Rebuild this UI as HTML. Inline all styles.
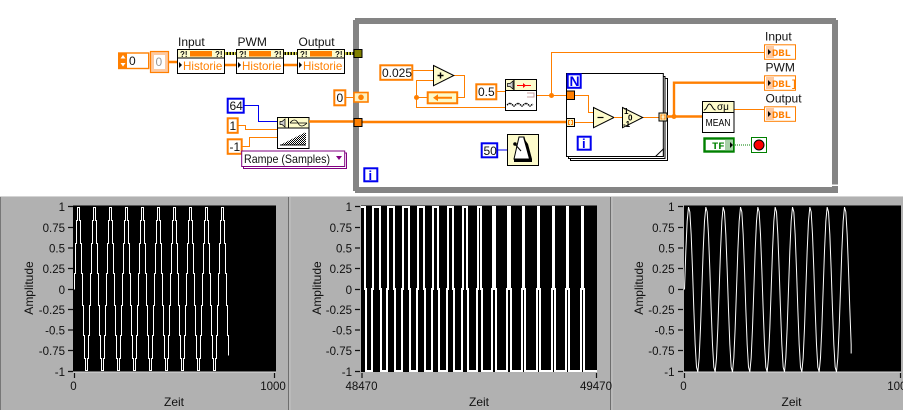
<!DOCTYPE html>
<html><head><meta charset="utf-8"><title>LabVIEW</title>
<style>
html,body{margin:0;padding:0;background:#fff;width:903px;height:410px;overflow:hidden}
svg{display:block}
text{font-family:"Liberation Sans",sans-serif;font-size:12px;fill:#111}
.o{fill:none;stroke:#ff7f00;stroke-width:1}
.ot{fill:none;stroke:#ff7f00;stroke-width:2.4}
.b{fill:#fff;stroke:#ff7f00;stroke-width:2}
.bl{fill:#fff;stroke:#0000f0;stroke-width:2}
.n{fill:#fff;stroke:#000;stroke-width:1}
.c{fill:#fdfbcb;stroke:#000;stroke-width:1}
.h{fill:#ff7f00;font-size:11.6px}
.e{text-anchor:end;font-size:11.5px}
.m{text-anchor:middle;font-size:11.5px}
.t{stroke:#111;stroke-width:1.2}
.d{fill:#ff7f00;font-weight:bold;font-size:10.5px;font-family:"Liberation Mono",monospace}
</style></head><body>
<svg width="903" height="410" viewBox="0 0 903 410" xmlns="http://www.w3.org/2000/svg">
<defs>
<pattern id="dith" width="2" height="2" patternUnits="userSpaceOnUse"><rect width="2" height="2" fill="#fff"/><rect width="1" height="1" fill="#000"/><rect x="1" y="1" width="1" height="1" fill="#000"/></pattern>
<path id="sine" d="M0 0l1.333-38.6l1.333-29.7l1.333-14.1l1.333 4.8l1.333 22.6l1.333 35.1l1.333 39.8l1.333 35.1l1.333 22.6l1.333 4.8l1.333-14.1l1.333-29.7l1.333-38.6" fill="none" stroke="#fff" stroke-width="1"/>
</defs>
<rect width="903" height="410" fill="#fff"/>

<!-- While loop -->
<path d="M356 21H835V190H356Z" fill="#fff" stroke="#848484" stroke-width="6"/>
<path d="M353 18h2v2h-2zM836 18h2v2h-2zM353 191h2v2h-2zM830 184.500h8v1.500h-8z" fill="#fff"/>

<!-- top-left chain -->
<rect x="118.7" y="53" width="30" height="15.5" fill="#fff" stroke="#ff7f00" stroke-width="1.4"/>
<rect x="119" y="53" width="8" height="15.5" fill="#ff7f00"/>
<path d="M123 55l2.5 3.500h-5zM123 66.500l2.500-3.500h-5z" fill="#fff"/>
<text x="129" y="65">0</text>
<rect x="150.500" y="51.500" width="18" height="21" fill="#fdc9a0" stroke="#ff7f00" stroke-width="1.2"/>
<rect x="154" y="55" width="11" height="14" fill="#fff"/>
<text x="155.500" y="66" style="fill:#999">0</text>
<path class="ot" d="M168 62H178M225 65H237M283 65H298"/>
<path d="M225 53.500H237M283 53.500H298M345 53.500H355" stroke="#000" stroke-width="3" fill="none"/>
<path d="M225 53.500H237M283 53.500H298M345 53.500H355" stroke="#e8e850" stroke-width="3" stroke-dasharray="1.500 1.500" fill="none"/>

<!-- nodes -->
<rect class="n" x="177.500" y="49.500" width="47" height="24"/>
<rect class="c" x="177.500" y="49.500" width="47" height="8.500"/>
<rect x="190" y="51" width="22" height="5.500" fill="#ff7f00"/>
<text x="180" y="57" style="font-size:8px;font-weight:bold">?!</text><text x="215" y="57" style="font-size:8px;font-weight:bold">?!</text>
<path d="M179 62v6l3-3z" fill="#000"/>
<text class="h" x="183" y="70">Historie</text>

<rect class="n" x="236.500" y="49.500" width="47" height="24"/>
<rect class="c" x="236.500" y="49.500" width="47" height="8.500"/>
<rect x="249" y="51" width="22" height="5.500" fill="#ff7f00"/>
<text x="239" y="57" style="font-size:8px;font-weight:bold">?!</text><text x="274" y="57" style="font-size:8px;font-weight:bold">?!</text>
<path d="M238 62v6l3-3z" fill="#000"/>
<text class="h" x="242" y="70">Historie</text>

<rect class="n" x="297.500" y="49.500" width="47" height="24"/>
<rect class="c" x="297.500" y="49.500" width="47" height="8.500"/>
<rect x="310" y="51" width="22" height="5.500" fill="#ff7f00"/>
<text x="300" y="57" style="font-size:8px;font-weight:bold">?!</text><text x="335" y="57" style="font-size:8px;font-weight:bold">?!</text>
<path d="M299 62v6l3-3z" fill="#000"/>
<text class="h" x="303" y="70">Historie</text>

<text x="178" y="46">Input</text><text x="237.500" y="46">PWM</text><text x="298.500" y="46">Output</text>
<rect x="354" y="49.500" width="8" height="8" fill="#808000" stroke="#000"/>

<!-- left constants -->
<rect class="b" x="334.300" y="90.300" width="11" height="15"/>
<text x="336.500" y="102">0</text>
<path class="o" d="M346 97.500H354"/>
<rect x="354" y="92.500" width="14" height="9.500" fill="#fdf0c0" stroke="#ff7f00" stroke-width="1.600"/>
<circle cx="361" cy="97.300" r="2.800" fill="#ff7f00"/>

<path d="M244 105.500H258.500V121.500H278" fill="none" stroke="#0000f0"/>
<path class="o" d="M238 125.500H245.500V129.500H278M242 146.500H249.500V137.500H278"/>
<rect class="bl" x="227.700" y="98.700" width="16" height="14"/>
<text x="229.500" y="110">64</text>
<rect class="b" x="227.700" y="118.300" width="10" height="14.500"/>
<text x="229.500" y="130">1</text>
<rect class="b" x="227.700" y="139.300" width="14" height="14.500"/>
<text x="229.500" y="151">-1</text>
<rect x="243.500" y="153" width="103" height="15.500" fill="#fff" stroke="#800080"/>
<rect x="241.700" y="151" width="103" height="15.500" fill="#fff" stroke="#800080"/>
<text x="244" y="163" textLength="86" lengthAdjust="spacingAndGlyphs">Rampe (Samples)</text>
<path d="M336 156h6l-3 4z" fill="#800080"/>

<rect class="n" x="277.500" y="117.500" width="31.500" height="31"/>
<rect class="c" x="277.500" y="117.500" width="31.500" height="10.500"/>
<path d="M288.500 118V128" stroke="#000"/>
<path d="M285 119v8l-3-2.500h-2v-3h2z" fill="#ccc" stroke="#000" stroke-width=".7"/>
<path d="M290 123c3-4 6-4 8 0s5 4 9 0M290 123h17" fill="none" stroke="#000" stroke-width=".8"/>
<path d="M280 145L306 132V145Z" fill="url(#dith)"/>
<path d="M280 145H306" stroke="#000"/>

<path class="ot" d="M309 121.500H354"/>
<path class="ot" d="M361 122H567"/>
<rect x="354" y="118.500" width="8" height="8" fill="#ff7f00" stroke="#000"/>

<!-- interior -->
<rect class="b" x="380.300" y="65.300" width="32" height="14.500"/>
<text x="382" y="77">0.025</text>
<path class="o" d="M413 70.500H433M454 75.500H464.500V97.500H458M427 97.500H416.500V80.500H433M416.500 97.500V107.500H505.500M497 91.500H505.500"/>
<circle cx="416.500" cy="97.500" r="2.500" fill="#ff7f00"/>
<path class="c" d="M433.500 65.500L453.800 75.500L433.500 85.700Z"/>
<path d="M437.500 75.500h6M440.500 72.500v6" stroke="#000" stroke-width="1.400"/>
<rect x="427.700" y="92.300" width="29.500" height="11" fill="#fdfbcb" stroke="#ff7f00" stroke-width="2"/>
<path d="M433 97.700l5-3.500v7zM437 96.700h15v2h-15z" fill="#ff7f00"/>
<rect class="b" x="476.300" y="84.300" width="20" height="15"/>
<text x="478" y="96">0.5</text>
<rect class="n" x="505.500" y="79.500" width="31" height="31"/>
<rect class="c" x="505.500" y="79.500" width="31" height="11"/>
<path d="M514 80v10" stroke="#000"/>
<path d="M513 81v8l-3-2.500h-2.500v-3h2.500z" fill="#ccc" stroke="#000" stroke-width=".7"/>
<path d="M517 85.500h14" stroke="#f00" stroke-width="1"/><path d="M523 83l3 2.500-3 2.500z" fill="#f00"/>
<path d="M527 97h7v-4h-7" fill="none" stroke="#c8a0a0"/>
<path d="M507 105l3-2 4 3 4-3 4 3 4-3 4 3 3-2" fill="none" stroke="#000" stroke-width="1.500" stroke-dasharray="1.300 .7"/>
<path class="o" d="M537 95.500H567M551.500 95.500V52.500H764"/>
<circle cx="551.500" cy="95.500" r="2.500" fill="#ff7f00"/>

<rect class="bl" x="481.700" y="143.300" width="15.500" height="14"/>
<text x="483.500" y="155">50</text>
<path d="M498 150H507.500" stroke="#0000f0"/>
<rect class="c" x="507.500" y="134.500" width="31" height="31"/>
<path d="M519 137h5l6 22h-16z" fill="#fff" stroke="#000"/>
<path d="M523 137l6 22h3l-4-15z" fill="#000"/>
<path d="M514 143l7 8" stroke="#000"/><circle cx="515" cy="144" r="1.800" fill="#000"/>
<path d="M514 159h18v3h-18z" fill="#000"/>

<!-- for loop -->
<rect x="570.500" y="78.500" width="97" height="82" fill="#fff" stroke="#000"/>
<rect x="568.500" y="76.500" width="96.500" height="82" fill="#fff" stroke="#000"/>
<rect x="566.500" y="73.500" width="96.800" height="83" fill="#fff" stroke="#000"/>
<path d="M655.500 156.500L663.300 149V156.500Z" fill="#fff" stroke="#000"/>
<path class="o" d="M575 95.500H588.500V112.500H593.500M575 122.500H593.500"/>
<rect x="567.700" y="74.300" width="13" height="13.500" class="bl"/>
<text x="569.500" y="86" style="fill:#0000f0;font-size:14px;font-weight:bold">N</text>
<rect x="566.500" y="91" width="8" height="8.500" fill="#ff7f00" stroke="#000"/>
<rect x="566.500" y="118.500" width="8" height="8" fill="#fdf0c0" stroke="#000"/>
<path d="M570 120.500h-1.500v4h1.500M571 120.500h1.500v4h-1.500" fill="none" stroke="#ff7f00"/>
<rect class="bl" x="577.700" y="136.700" width="13" height="13"/>
<text x="582" y="148" style="fill:#0000f0;font-size:13px;font-weight:bold">i</text>
<rect class="bl" x="364.300" y="168.300" width="13" height="13"/>
<text x="368.500" y="180" style="fill:#0000f0;font-size:13px;font-weight:bold">i</text>

<path class="c" d="M593.500 107.500L614 117.500L593.500 127.700Z"/>
<path d="M597.500 117.500h6" stroke="#000" stroke-width="1.200"/>
<path class="o" d="M614 117.500H622.500M642.500 117.500H659M734 109.500H764"/>
<path class="c" d="M622.500 107.500L642.700 117.500L622.500 127.700Z"/>
<text x="624" y="114" style="font-size:8px;font-weight:bold;fill:#000">1</text>
<text x="628" y="120.500" style="font-size:8px;font-weight:bold;fill:#000">0</text>
<text x="623" y="127" style="font-size:8px;font-weight:bold;fill:#000">-1</text>
<rect x="659" y="113" width="8" height="8" fill="#fdf0c0" stroke="#000"/>
<path d="M662.500 115h-1.500v4h1.500M663.500 115h1.500v4h-1.500" fill="none" stroke="#ff7f00"/>
<path class="ot" d="M667 116.500H702.500M674 116.500V82.700H764"/>
<circle cx="674" cy="116.500" r="2.500" fill="#ff7f00"/>

<rect class="n" x="702.500" y="101.500" width="31.500" height="31"/>
<rect class="c" x="702.500" y="101.500" width="31.500" height="11"/>
<path d="M704 110c3 0 3-6 5.500-6s3 6 6 6" fill="none" stroke="#000"/>
<text x="717" y="110" style="font-size:10px;fill:#000">σμ</text>
<text x="705.500" y="126" textLength="25" lengthAdjust="spacingAndGlyphs" style="font-size:10px;fill:#000">MEAN</text>

<!-- indicators -->
<text x="765" y="40.500">Input</text><text x="765.500" y="71.500">PWM</text><text x="765.500" y="102.500">Output</text>
<rect x="764.500" y="44.800" width="31" height="14.500" fill="#fff" stroke="#ff7f00"/>
<rect x="766" y="46" width="8" height="12" fill="#fdc9a0"/>
<path d="M768 49v6l3-3z" fill="#000"/><text class="d" x="772" y="56">DBL</text>
<rect x="764.500" y="75.800" width="31" height="14.500" fill="#fff" stroke="#ff7f00"/>
<rect x="766" y="77" width="8" height="12" fill="#fdc9a0"/>
<path d="M768 80v6l3-3z" fill="#000"/><text class="d" x="772" y="87">DBL]</text>
<rect x="764.500" y="106.800" width="31" height="14.500" fill="#fff" stroke="#ff7f00"/>
<rect x="766" y="108" width="8" height="12" fill="#fdc9a0"/>
<path d="M768 111v6l3-3z" fill="#000"/><text class="d" x="772" y="118">DBL</text>

<rect x="704.500" y="138.500" width="29" height="13" fill="#fff" stroke="#008000" stroke-width="2.400"/>
<rect x="725" y="139.500" width="8" height="11" fill="#a8d0a8"/>
<text x="712" y="149" style="fill:#008000;font-weight:bold;font-size:10.500px;font-family:'Liberation Mono',monospace">TF</text>
<path d="M730 142v6l3-3z" fill="#000"/>
<path d="M735 145H751" stroke="#008000" stroke-dasharray="1 1" fill="none"/>
<rect x="751.500" y="137.500" width="15" height="15" fill="#fff" stroke="#008000"/>
<circle cx="759" cy="145" r="5" fill="#f00" stroke="#000"/>

<!-- Bottom panels -->
<rect x="0" y="196" width="903" height="214" fill="#b1b1b1"/>
<path d="M0 196.500H903" stroke="#d4d4d4"/>
<path d="M.5 197V410" stroke="#777"/>
<path d="M288.500 197V410M610.500 197V410" stroke="#6e6e6e"/>
<path d="M290 197V410M612 197V410" stroke="#c4c4c4"/>

<!-- plot 1 -->
<rect x="73" y="205" width="203" height="167" fill="#000"/>
<path d="M73 205.500H276" stroke="#555"/><path d="M73 372H276" stroke="#ddd"/>
<path d="M74.500 289.500V273.500h1v-30h1v-23h1v-13h2v13h1v23h1v30h1v32h1v30h1v23h1v12h2v-12h1v-23h1v-30h1v-32h1v-30h1v-23h1v-13h2v13h1v23h1v30h1v32h1v30h1v23h1v12h2v-12h1v-23h1v-30h1v-32h1v-30h1v-23h1v-13h2v13h1v23h1v30h1v32h1v30h1v23h1v12h2v-12h1v-23h1v-30h1v-32h1v-30h1v-23h1v-13h2v13h1v23h1v30h1v32h1v30h1v23h1v12h2v-12h1v-23h1v-30h1v-32h1v-30h1v-23h1v-13h2v13h1v23h1v30h1v32h1v30h1v23h1v12h2v-12h1v-23h1v-30h1v-32h1v-30h1v-23h1v-13h2v13h1v23h1v30h1v32h1v30h1v23h1v12h2v-12h1v-23h1v-30h1v-32h1v-30h1v-23h1v-13h2v13h1v23h1v30h1v32h1v30h1v23h1v12h2v-12h1v-23h1v-30h1v-32h1v-30h1v-23h1v-13h2v13h1v23h1v30h1v32h1v30h1v23h1v12h2v-12h1v-23h1v-30h1v-32h1v-30h1v-23h1v-13h2v13h1v23h1v30h1v32h1v30h1v23h1v12h2v-12h1v-23h1v-30h1v-32h1v-30h1v-23h1v-13h2v13h1v23h1v30h1v32h1v30h1v20" fill="none" stroke="#fff" stroke-width="1"/>
<path class="t" d="M68 206.500h5M68 227.500h5M68 248h5M68 268.500h5M68 289.500h5M68 309.500h5M68 330h5M68 350.500h5M68 371.500h5M74.500 373v5M274.500 373v5"/>
<text class="e" x="65" y="211">1</text><text class="e" x="65" y="232">0.75</text><text class="e" x="65" y="252.500">0.5</text><text class="e" x="65" y="273">0.25</text><text class="e" x="65" y="294">0</text><text class="e" x="65" y="314">-0.25</text><text class="e" x="65" y="334.500">-0.5</text><text class="e" x="65" y="355">-0.75</text><text class="e" x="65" y="376">-1</text>
<text class="m" x="73.500" y="390">0</text><text class="m" x="273" y="390">1000</text>
<text x="174" y="406" text-anchor="middle">Zeit</text>
<text transform="translate(33,288) rotate(-90)" text-anchor="middle">Amplitude</text>

<!-- plot 2 -->
<rect x="361" y="205" width="236" height="167" fill="#000"/>
<path d="M361 205.500H597" stroke="#555"/>
<path d="M361 207H365V289H366V371H372V289H373V207H380V289H381V371H387V289H388V207H394V289H395V371H402V289H403V207H409V289H410V371H417V289H418V207H424V289H425V371H432V289H433V207H438V289H439V371H447V289H448V207H453V289H454V371H462V289H463V207H467V289H468V371H477V289H478V207H481V289H482V371H492V289H493V207H495V289H496V371H507V289H508V207H510V289H511V371H522V289H523V207H524V289H525V371H537V289H538V207H539V289H540V371H552V289H553V207H554V289H555V371H566V289H567V207H568V289H569V371H581V289H582V207H583V289H584V371H597" fill="none" stroke="#fff" stroke-width="2"/>
<path class="t" d="M355 206.500h5M355 227.500h5M355 248h5M355 268.500h5M355 289.500h5M355 309.500h5M355 330h5M355 350.500h5M355 371.500h5M362 373v5M596.500 373v5"/>
<text class="e" x="352" y="211">1</text><text class="e" x="352" y="232">0.75</text><text class="e" x="352" y="252.500">0.5</text><text class="e" x="352" y="273">0.25</text><text class="e" x="352" y="294">0</text><text class="e" x="352" y="314">-0.25</text><text class="e" x="352" y="334.500">-0.5</text><text class="e" x="352" y="355">-0.75</text><text class="e" x="352" y="376">-1</text>
<text class="m" x="361.500" y="390">48470</text><text class="m" x="596" y="390">49470</text>
<text x="479" y="406" text-anchor="middle">Zeit</text>
<text transform="translate(321,288) rotate(-90)" text-anchor="middle">Amplitude</text>

<!-- plot 3 -->
<rect x="684" y="205" width="217" height="167" fill="#000"/>
<path d="M684 205.500H901" stroke="#555"/><path d="M684 372H901" stroke="#ddd"/>
<g transform="translate(684.500,289.500)">
<use href="#sine" x="0"/><use href="#sine" x="17.333"/><use href="#sine" x="34.667"/><use href="#sine" x="52"/><use href="#sine" x="69.333"/><use href="#sine" x="86.667"/><use href="#sine" x="104"/><use href="#sine" x="121.333"/><use href="#sine" x="138.667"/>
<path d="M156 0l1.333-38.6l1.333-29.7l1.333-14.1l1.333 4.8l1.333 22.6l1.333 35.1l1.333 39.8l1.333 35.1v9" fill="none" stroke="#fff" stroke-width="1"/>
</g>
<path class="t" d="M678 206.500h5M678 227.500h5M678 248h5M678 268.500h5M678 289.500h5M678 309.500h5M678 330h5M678 350.500h5M678 371.500h5M684.500 373v5M900.500 373v5"/>
<text class="e" x="674.500" y="211">1</text><text class="e" x="674.500" y="232">0.75</text><text class="e" x="674.500" y="252.500">0.5</text><text class="e" x="674.500" y="273">0.25</text><text class="e" x="674.500" y="294">0</text><text class="e" x="674.500" y="314">-0.25</text><text class="e" x="674.500" y="334.500">-0.5</text><text class="e" x="674.500" y="355">-0.75</text><text class="e" x="674.500" y="376">-1</text>
<text class="m" x="683.500" y="390">0</text><text class="m" x="900" y="390">1000</text>
<text x="791.500" y="406" text-anchor="middle">Zeit</text>
<text transform="translate(643,288) rotate(-90)" text-anchor="middle">Amplitude</text>
</svg>
</body></html>
